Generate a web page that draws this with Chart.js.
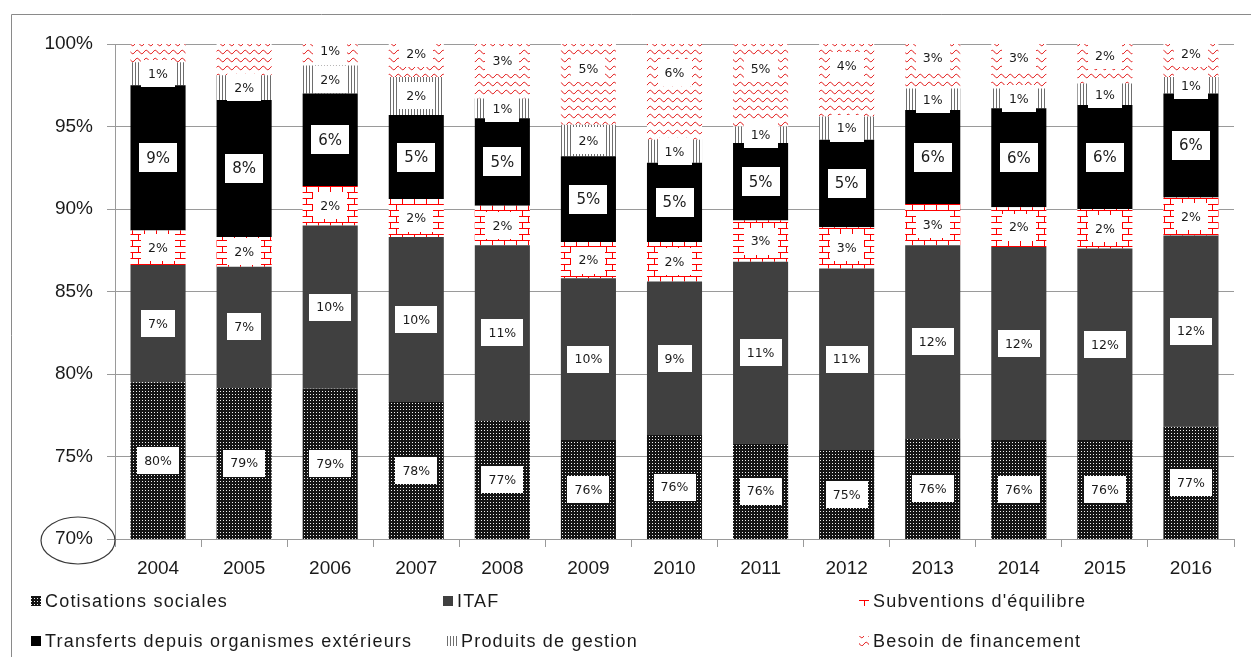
<!DOCTYPE html>
<html lang="fr">
<head>
<meta charset="utf-8">
<title>Structure du financement 2004-2016</title>
<script src="https://cdn.jsdelivr.net/npm/chart.js@4.4.1/dist/chart.umd.min.js"></script>
<style>
  html, body { margin: 0; padding: 0; background: #fff; }
  #wrap { width: 1251px; height: 657px; }
</style>
</head>
<body>
<div id="wrap"><canvas id="financementChart" width="1251" height="657"></canvas></div>
<script>
// Données (en % du total)
const annees = ['2004', '2005', '2006', '2007', '2008', '2009', '2010', '2011', '2012', '2013', '2014', '2015', '2016'];
const cotisationsSociales = [79.5, 79.2, 79.1, 78.3, 77.2, 76.0, 76.3, 75.8, 75.4, 76.1, 76.0, 76.0, 76.8];
const itaf = [7.1, 7.3, 9.9, 10.0, 10.6, 9.8, 9.3, 11.0, 11.0, 11.7, 11.7, 11.6, 11.6];
const subventionsEquilibre = [2.1, 1.8, 2.4, 2.3, 2.4, 2.2, 2.4, 2.5, 2.5, 2.5, 2.4, 2.4, 2.3];
const transfertsExterieurs = [8.8, 8.3, 5.6, 5.1, 5.3, 5.2, 4.8, 4.7, 5.3, 5.7, 6.0, 6.3, 6.3];
const produitsGestion = [1.4, 1.5, 1.7, 2.3, 1.2, 1.9, 1.4, 1.0, 1.4, 1.3, 1.2, 1.3, 1.0];
const besoinFinancement = [1.1, 1.9, 1.3, 2.0, 3.3, 4.9, 5.8, 5.0, 4.4, 2.7, 2.7, 2.4, 2.0];
const graduationsY = [70, 75, 80, 85, 90, 95, 100];
// pas d'étiquette sur le besoin de financement ces années-là
const besoinSansEtiquette = ['2004', '2005'];

const canvas = document.getElementById('financementChart');
const ctxPrincipal = canvas.getContext('2d');

// Motifs de remplissage (type Excel)
function motif(w, h, dessin) {
    const c = document.createElement('canvas');
    c.width = w;
    c.height = h;
    const g = c.getContext('2d');
    g.fillStyle = '#fff';
    g.fillRect(0, 0, w, h);
    dessin(g);
    return ctxPrincipal.createPattern(c, 'repeat');
}

const motifPoints = motif(3, 3, g => {
    g.fillStyle = '#141414';
    g.fillRect(0, 0, 3, 3);
    g.fillStyle = '#f0f0f0';
    g.fillRect(1, 1, 1, 1);
});

const motifBriques = motif(12, 12, g => {
    g.fillStyle = '#ff0000';
    g.fillRect(0, 0, 12, 1);
    g.fillRect(0, 6, 12, 1);
    g.fillRect(0, 0, 1, 6);
    g.fillRect(6, 6, 1, 6);
});

const motifLignes = motif(3, 1, g => {
    g.fillStyle = '#6e6e6e';
    g.fillRect(0, 0, 1, 1);
});

// vagues rouges, une rangée tous les 8 px
const motifVagues = motif(9, 8, g => {
    g.strokeStyle = '#e41b1b';
    g.lineWidth = 1;
    g.beginPath();
    g.moveTo(0, 4);
    g.quadraticCurveTo(2.25, 0.5, 4.5, 4);
    g.quadraticCurveTo(6.75, 7.5, 9, 4);
    g.stroke();
});

// Étiquettes blanches centrées sur chaque segment
const etiquettes = {
    id: 'etiquettes',
    afterDatasetsDraw(chart) {
        const { ctx, chartArea: zone } = chart;
        chart.data.datasets.forEach((ds, i) => {
            const meta = chart.getDatasetMeta(i);
            meta.data.forEach((barre, j) => {
                if (ds.sansEtiquette && ds.sansEtiquette.includes(annees[j])) return;
                const { x, y, base } = barre.getProps(['x', 'y', 'base'], true);
                const haut = Math.max(Math.min(y, base), zone.top);
                const bas = Math.min(Math.max(y, base), zone.bottom);
                if (bas <= haut) return;
                const cy = haut + (bas - haut) * ds.positionEtiquette;
                const texte = Math.round(ds.data[j]) + '%';

                ctx.save();
                ctx.font = ds.tailleEtiquette + 'px "DejaVu Sans"';
                const w = Math.round(ctx.measureText(texte).width + 14);
                const h = Math.round(ds.tailleEtiquette + 14);
                ctx.fillStyle = '#fff';
                ctx.fillRect(Math.round(x - w / 2), Math.round(cy - h / 2), w, h);
                ctx.fillStyle = '#1a1a1a';
                ctx.textAlign = 'center';
                ctx.textBaseline = 'middle';
                ctx.fillText(texte, x, cy + 1);
                ctx.restore();
            });
        });
    }
};

// Cadre, ellipse autour de 70% et légende sur trois colonnes
const cadreEtLegende = {
    id: 'cadreEtLegende',
    beforeDraw(chart) {
        const { ctx, width, height } = chart;
        ctx.save();
        ctx.strokeStyle = '#8a8a8a';
        ctx.lineWidth = 1;
        ctx.beginPath();
        ctx.moveTo(11.5, height);
        ctx.lineTo(11.5, 14.5);
        ctx.lineTo(width, 14.5);
        ctx.stroke();
        ctx.restore();
    },
    afterDraw(chart) {
        const { ctx, chartArea: zone } = chart;
        const yMin = chart.scales.y.getPixelForValue(70);

        ctx.save();
        ctx.strokeStyle = '#3a3a3a';
        ctx.lineWidth = 1.2;
        ctx.beginPath();
        ctx.ellipse(zone.left - 37, yMin + 1.5, 37, 23.5, 0, 0, Math.PI * 2);
        ctx.stroke();

        const colonnes = [[31, 443, 859], [31, 447, 859]];
        const lignes = [601, 641];
        ctx.font = '18px "Liberation Sans"';
        ctx.letterSpacing = '1.2px';
        ctx.textBaseline = 'middle';
        chart.data.datasets.forEach((ds, i) => {
            const ligne = Math.floor(i / 3);
            const x = colonnes[ligne][i % 3];
            const y = lignes[ligne];
            ctx.fillStyle = ds.backgroundColor;
            ctx.fillRect(x, y - 5, 10, 10);
            ctx.fillStyle = '#1a1a1a';
            ctx.fillText(ds.label, x + 14, y + 1);
        });
        ctx.restore();
    }
};

function jeu(label, data, fond, options = {}) {
    return Object.assign({
        label: label,
        data: data,
        backgroundColor: fond,
        borderWidth: 0,
        barPercentage: 0.64,
        categoryPercentage: 1,
        positionEtiquette: 0.5,
        tailleEtiquette: 12.5
    }, options);
}

new Chart(ctxPrincipal, {
    type: 'bar',
    data: {
        labels: annees,
        datasets: [
            jeu('Cotisations sociales', cotisationsSociales, motifPoints),
            jeu('ITAF', itaf, '#404040'),
            jeu("Subventions d'équilibre", subventionsEquilibre, motifBriques),
            jeu('Transferts depuis organismes extérieurs', transfertsExterieurs, '#000000', { tailleEtiquette: 15 }),
            jeu('Produits de gestion', produitsGestion, motifLignes),
            jeu('Besoin de financement', besoinFinancement, motifVagues, { positionEtiquette: 0.3, sansEtiquette: besoinSansEtiquette })
        ]
    },
    options: {
        responsive: false,
        animation: false,
        layout: { padding: { top: 44, right: 17, left: 0, bottom: 0 } },
        plugins: {
            legend: { display: false },
            tooltip: { enabled: false }
        },
        scales: {
            x: {
                stacked: true,
                afterFit: s => { s.height = 118; },
                grid: {
                    drawOnChartArea: false,
                    color: '#9a9a9a',
                    tickLength: 8
                },
                border: { color: '#9a9a9a' },
                ticks: {
                    color: '#1a1a1a',
                    padding: 10,
                    font: { family: '"Liberation Sans"', size: 19 }
                }
            },
            y: {
                stacked: true,
                min: 70,
                max: 100,
                afterFit: s => { s.width = 115; },
                afterBuildTicks: s => { s.ticks = graduationsY.map(v => ({ value: v })); },
                grid: {
                    color: '#9a9a9a',
                    tickLength: 8
                },
                border: { color: '#9a9a9a' },
                ticks: {
                    color: '#1a1a1a',
                    padding: 14,
                    font: { family: '"Liberation Sans"', size: 19 },
                    callback: v => v + '%'
                }
            }
        }
    },
    plugins: [etiquettes, cadreEtLegende]
});
</script>
</body>
</html>
